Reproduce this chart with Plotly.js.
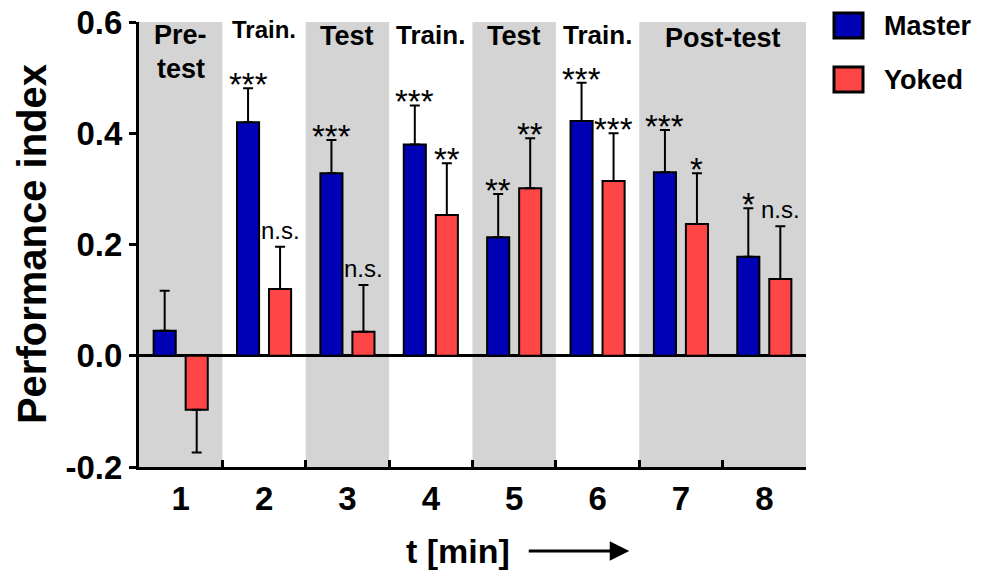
<!DOCTYPE html>
<html>
<head>
<meta charset="utf-8">
<script src="https://cdn.plot.ly/plotly-3.0.1.min.js"></script>
<style>html,body{margin:0;padding:0;background:#fff;}#chart{width:985px;height:571px;}</style>
</head>
<body>
<div id="chart"></div>
<script>
// ---- data ----
const minutes = [1, 2, 3, 4, 5, 6, 7, 8];
const tickLabels = ['1', '2', '3', '4', '5', '6', '7', '8'];
const masterValues = [0.045, 0.420, 0.328, 0.380, 0.213, 0.422, 0.330, 0.178];
const masterSem    = [0.072, 0.061, 0.060, 0.070, 0.078, 0.069, 0.076, 0.087];
const yokedValues  = [-0.097, 0.120, 0.043, 0.253, 0.301, 0.314, 0.237, 0.138];
const yokedSem     = [0.077, 0.076, 0.084, 0.093, 0.090, 0.086, 0.091, 0.095];
const masterSig = ['', '***', '***', '***', '**', '***', '***', '*'];
const yokedSig  = ['', 'n.s.', 'n.s.', '**', '**', '***', '*', 'n.s.'];
const phaseLabels = [
  {text: 'Pre-', from: 1, to: 1, shaded: true, size: 27, y: 1.009},
  {text: 'test', from: 1, to: 1, shaded: false, size: 27, y: 0.933},
  {text: 'Train.', from: 2, to: 2, shaded: false, size: 24, y: 1.017},
  {text: 'Test', from: 3, to: 3, shaded: true, size: 27, y: 1.007},
  {text: 'Train.', from: 4, to: 4, shaded: false, size: 26, y: 1.009},
  {text: 'Test', from: 5, to: 5, shaded: true, size: 27, y: 1.007},
  {text: 'Train.', from: 6, to: 6, shaded: false, size: 26, y: 1.009},
  {text: 'Post-test', from: 7, to: 8, shaded: true, size: 27, y: 1.003}
];
const seriesNames = ['Master', 'Yoked'];

// ---- style ----
const BLUE = '#0000b4';
const RED = '#ff4646';
const FONT = 'Liberation Sans, Arial, sans-serif';
const OFFSET = 0.192;

function upErr(v, e) { return v.map((x, i) => x >= 0 ? e[i] : 0); }
function downErr(v, e) { return v.map((x, i) => x < 0 ? e[i] : 0); }

function barTrace(name, vals, sem, color) {
  return {
    type: 'bar', name: name, x: minutes, y: vals,
    marker: {color: color, line: {color: '#000', width: 2}},
    error_y: {type: 'data', symmetric: false, array: upErr(vals, sem), arrayminus: downErr(vals, sem),
              color: '#000', thickness: 2, width: 5},
    showlegend: false, hoverinfo: 'x+y'
  };
}

const traces = [
  barTrace(seriesNames[0], masterValues, masterSem, BLUE),
  barTrace(seriesNames[1], yokedValues, yokedSem, RED)
];

const shapes = [];
const annotations = [];

phaseLabels.forEach(p => {
  if (p.shaded) {
    shapes.push({type: 'rect', layer: 'below', xref: 'x', yref: 'y',
      x0: p.from - 0.5, x1: p.to + 0.5, y0: -0.2, y1: p.to > p.from ? 0.617 : 0.605,
      fillcolor: '#d4d4d4', line: {width: 0}});
  }
  annotations.push({xref: 'x', yref: 'paper', x: (p.from + p.to) / 2, y: p.y,
    yanchor: 'top', xanchor: 'center', text: '<b>' + p.text + '</b>', showarrow: false,
    font: {family: FONT, size: p.size, color: '#000'}});
});

function sigAnn(vals, sem, sig, off) {
  vals.forEach((v, i) => {
    const s = sig[i];
    if (!s) return;
    const top = v >= 0 ? v + sem[i] : v;
    const stars = s.indexOf('*') === 0;
    annotations.push({xref: 'x', yref: 'y', x: minutes[i] + off, y: top,
      yanchor: 'bottom', xanchor: 'center', text: s, showarrow: false,
      yshift: stars ? -17 : 1,
      font: {family: FONT, size: stars ? 33 : 24, color: '#000'}});
  });
}
sigAnn(masterValues, masterSem, masterSig, -OFFSET);
sigAnn(yokedValues, yokedSem, yokedSig, OFFSET);

// axis titles
annotations.push({xref: 'paper', yref: 'paper', x: -0.161, y: 0.5, textangle: -90,
  xanchor: 'center', yanchor: 'middle',
  text: '<b>Performance index</b>', showarrow: false,
  font: {family: FONT, size: 40, color: '#000'}});
annotations.push({xref: 'paper', yref: 'paper', x: 0.478, y: -0.189,
  xanchor: 'center', yanchor: 'middle',
  text: '<b>t [min]</b>', showarrow: false,
  font: {family: FONT, size: 34, color: '#000'}});
annotations.push({xref: 'paper', yref: 'paper', x: 0.735, y: -0.189, ax: -102, ay: 0,
  text: '', showarrow: true, arrowhead: 2, arrowsize: 1.3, arrowwidth: 3, arrowcolor: '#000'});

// legend
const legendColors = [BLUE, RED];
seriesNames.forEach((n, i) => {
  const top = 13 + i * 54;
  shapes.push({type: 'rect', xref: 'paper', yref: 'paper',
    x0: (834 - 139) / 667, x1: (863 - 139) / 667,
    y0: (467 - top) / 445, y1: (467 - top - 25) / 445,
    fillcolor: legendColors[i], line: {color: '#000', width: 3}});
  annotations.push({xref: 'paper', yref: 'paper', x: (882 - 139) / 667, xanchor: 'left',
    y: (467 - top - 13) / 445, yanchor: 'middle', text: '<b>' + n + '</b>', showarrow: false,
    font: {family: FONT, size: 27, color: '#000'}});
});

const layout = {
  width: 985, height: 571,
  margin: {l: 139, r: 179, t: 22, b: 104},
  paper_bgcolor: '#fff', plot_bgcolor: 'rgba(0,0,0,0)',
  barmode: 'group', bargap: 0.232, bargroupgap: 0.31,
  font: {family: FONT, color: '#000'},
  xaxis: {
    range: [0.5, 8.5], tickvals: minutes, ticktext: tickLabels.map(t => '<b>' + t + '</b>'),
    ticks: '', showgrid: false, zeroline: false,
    showline: true, linecolor: '#000', linewidth: 3,
    tickfont: {family: FONT, size: 33, color: '#000'},
    minor: {tickvals: [1.5, 2.5, 3.5, 4.5, 5.5, 6.5, 7.5], ticks: 'inside', ticklen: 7, tickwidth: 3, tickcolor: '#000', showgrid: false},
    fixedrange: true
  },
  yaxis: {
    range: [-0.2, 0.6], tickvals: [-0.2, 0, 0.2, 0.4, 0.6],
    ticktext: ['-0.2', '0.0', '0.2', '0.4', '0.6'].map(t => '<b>' + t + '</b>'),
    ticks: 'outside', ticklen: 7, tickwidth: 3, tickcolor: '#000',
    showgrid: false, zeroline: true, zerolinecolor: '#000', zerolinewidth: 3,
    showline: true, linecolor: '#000', linewidth: 3,
    tickfont: {family: FONT, size: 33, color: '#000'},
    fixedrange: true
  },
  shapes: shapes,
  annotations: annotations
};

Plotly.newPlot('chart', traces, layout, {displayModeBar: false, staticPlot: true});
</script>
</body>
</html>
